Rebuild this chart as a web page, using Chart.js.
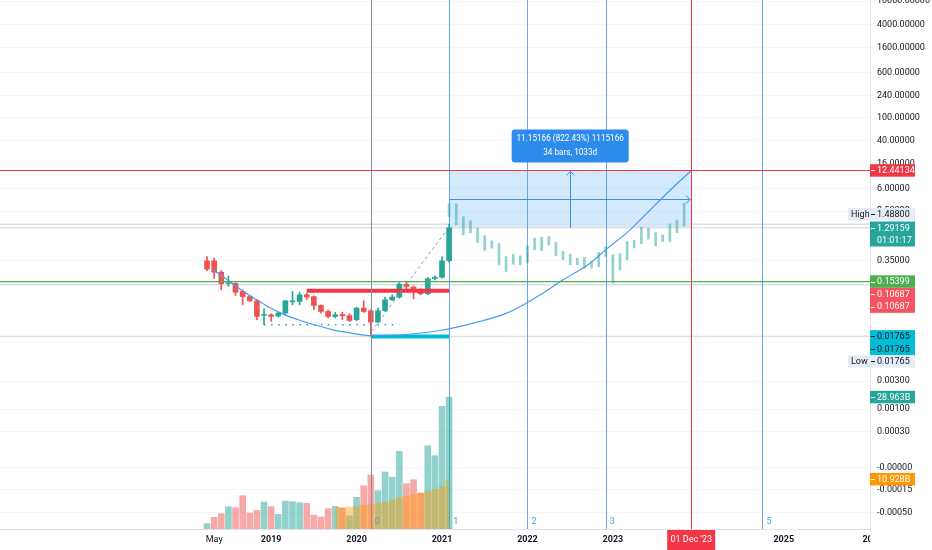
<!DOCTYPE html>
<html>
<head>
<meta charset="utf-8">
<script src="https://cdn.jsdelivr.net/npm/chart.js@4.4.0/dist/chart.umd.min.js"></script>
<style>
html, body { margin: 0; padding: 0; background: #fff; overflow: hidden; }
canvas { display: block; }
</style>
</head>
<body>
<canvas id="chart" width="932" height="550"></canvas>
<script>
// month index: 0 = Jan 2018
const candleStart = 3; // Apr 2018
const opens  = [0.350,0.350,0.223,0.143,0.143,0.104,0.085,0.072,0.0404,0.0415,0.0394,0.0444,0.0693,0.070,0.0914,0.085,0.060,0.0472,0.0388,0.0420,0.0404,0.0341,0.0540,0.0486,0.0311,0.0486,0.075,0.0834,0.139,0.124,0.111,0.095,0.174,0.183,0.350];
const highs  = [0.414,0.390,0.238,0.193,0.148,0.111,0.088,0.075,0.0526,0.0432,0.0455,0.0730,0.104,0.101,0.097,0.088,0.0616,0.0505,0.0455,0.0458,0.0432,0.0561,0.0721,0.0505,0.054,0.0834,0.0914,0.148,0.148,0.130,0.116,0.181,0.193,0.414,1.488];
const lows   = [0.238,0.175,0.111,0.127,0.089,0.062,0.070,0.0341,0.028,0.0318,0.0378,0.0415,0.0616,0.0616,0.075,0.0505,0.0444,0.0365,0.0365,0.0341,0.0318,0.0327,0.0455,0.01765,0.0300,0.0472,0.0721,0.080,0.111,0.078,0.091,0.0914,0.165,0.176,0.33];
const closes = [0.252,0.223,0.141,0.148,0.101,0.085,0.072,0.0388,0.0415,0.0388,0.0444,0.0721,0.0721,0.0914,0.0834,0.060,0.0472,0.0388,0.0415,0.0399,0.0331,0.0540,0.0472,0.0311,0.0486,0.075,0.0834,0.139,0.127,0.1143,0.095,0.172,0.183,0.350,1.2916];

// volume (billions), same months as the candles
const volumes = [1.17,2.56,3.36,4.90,4.68,7.31,3.51,4.10,5.92,4.90,3.22,6.14,6.00,5.78,5.63,3.07,2.63,4.46,4.97,4.53,2.93,6.95,9.51,11.85,8.41,12.51,11.34,17.04,9.95,10.82,7.90,18.28,16.09,26.91,28.963];
const volumeDir = "udduddddud" + "uuuuddddud" + "uudduuuudd" + "duuuu";
// volume moving average from Oct 2019
const maStart = 21;
const volumeMA = [4.83,4.83,4.90,4.97,5.27,5.48,5.70,6.00,6.36,6.95,7.24,7.68,7.90,8.26,8.78,9.36,10.928];

// bars pattern projection, Feb 2021 .. Nov 2023
const projStart = 37;
const projHigh = [3.32,3.32,2.00,1.70,1.27,0.94,0.77,0.70,0.414,0.454,0.426,0.632,0.857,0.890,0.91,0.72,0.505,0.454,0.388,0.40,0.34,0.486,0.615,0.443,0.461,0.75,0.78,1.32,1.27,1.07,0.976,1.507,1.75,3.41];
const projLow  = [2.00,1.45,0.976,1.06,0.72,0.525,0.577,0.298,0.230,0.306,0.299,0.327,0.540,0.525,0.658,0.426,0.364,0.299,0.299,0.262,0.262,0.279,0.414,0.145,0.245,0.364,0.58,0.684,0.824,0.632,0.75,0.75,1.07,1.39];

// drawings
const curveX = [3.8,6.2,8.1,10.0,11.8,13.7,16.1,18.4,20.7,23.1,26.0,31.0,35.7,40.4,45.1,48.0,49.8,53.0,56.8,59.1,61.9,64.8,67.6,71.0];
const curveY = [0.25,0.154,0.104,0.0749,0.0552,0.0426,0.0331,0.0271,0.0229,0.0203,0.0182,0.0190,0.0223,0.0298,0.0443,0.0673,0.0912,0.165,0.319,0.555,1.043,2.30,5.06,12.44];
const dashX = [26.1, 36.7];
const dashY = [0.0215, 1.19];
const supportX = [11, 30];
const supportValue = 0.028;
const resistX = [17, 37];
const resistValue = 0.10687;
const lowX = [26, 37];
const lowValue = 0.01765;
const highValue = 1.488;
const lastClose = 1.29159;
const greenValue = 0.15399;
const grayValue = 0.1354;
const rangeFrom = 37, rangeTo = 71;
const rangeLow = 1.28968, rangeHigh = 12.44134;
const rangeText = ["11.15166 (822.43%) 1115166", "34 bars, 1033d"];
const fibIdx = [26, 37, 48, 59, 81];
const fibText = ["0", "1", "2", "3", "5"];
const markIdx = 71;
const markText = "01 Dec '23";
const lastVolume = 28.963, lastMA = 10.928;

// axes
const xTickAt = [4, 12, 24, 36, 48, 60, 84];
const xTickText = ["May", "2019", "2020", "2021", "2022", "2023", "2025"];
const xClipTick = 96.5, xClipText = "2026";
const yTickAt = [10000,4000,1600,600,240,100,40,16,6,2.5,0.35,0.003,0.001,0.000407,0.0000984,0.0000412,0.0000166];
const yTickText = ["10000.00000","4000.00000","1600.00000","600.00000","240.00000","100.00000","40.00000","16.00000","6.00000","2.50000","0.35000","0.00300","0.00100","0.00030","-0.00000","-0.00015","-0.00050"];

const TEAL = "#26a69a";
const RED = "#ef5350";
const FONT = "Roboto";
const FS = 9;

const candleX = opens.map((o, i) => candleStart + i);
const isUp = opens.map((o, i) => closes[i] >= o);

function crisp(v) { return Math.round(v) + 0.5; }

function vLine(ctx, a, px, color) {
    ctx.strokeStyle = color;
    ctx.beginPath(); ctx.moveTo(crisp(px), a.top); ctx.lineTo(crisp(px), a.bottom); ctx.stroke();
}

const overlay = {
    id: "overlay",
    beforeDatasetsDraw(chart) {
        const {ctx, chartArea: a, scales: {x, y}} = chart;
        ctx.save();
        // price range box
        const l = x.getPixelForValue(rangeFrom), r = x.getPixelForValue(rangeTo);
        const t = y.getPixelForValue(rangeHigh), b = y.getPixelForValue(rangeLow);
        ctx.fillStyle = "rgba(33,150,243,0.2)";
        ctx.fillRect(l, t, r - l, b - t);

        // horizontal lines across the pane
        ctx.lineWidth = 1.5;
        ctx.strokeStyle = "#dcdfe5";
        [highValue, rangeLow, grayValue, lowValue].forEach(v => {
            const py = y.getPixelForValue(v);
            ctx.beginPath(); ctx.moveTo(a.left, py); ctx.lineTo(a.right, py); ctx.stroke();
        });

        // fib time zones 1..5
        ctx.lineWidth = 1;
        fibIdx.forEach((m, i) => {
            if (i > 0) vLine(ctx, a, x.getPixelForValue(m), "#64a6f2");
        });
        ctx.restore();
    },
    afterDatasetsDraw(chart) {
        const {ctx, chartArea: a, scales: {x, y}} = chart;
        ctx.save();
        ctx.lineWidth = 1;
        // zone 0 and the date line
        vLine(ctx, a, x.getPixelForValue(fibIdx[0]), "#8c8f99");
        vLine(ctx, a, x.getPixelForValue(markIdx), "#f23645");
        // red / green price lines
        const ry = crisp(y.getPixelForValue(rangeHigh));
        ctx.strokeStyle = "#f23645";
        ctx.beginPath(); ctx.moveTo(a.left, ry); ctx.lineTo(a.right, ry); ctx.stroke();
        const gy = y.getPixelForValue(greenValue);
        ctx.strokeStyle = "#4caf50";
        ctx.lineWidth = 1.3;
        ctx.beginPath(); ctx.moveTo(a.left, gy); ctx.lineTo(a.right, gy); ctx.stroke();
        ctx.lineWidth = 1;

        // range arrows
        const l = x.getPixelForValue(rangeFrom), r = x.getPixelForValue(rangeTo);
        const t = y.getPixelForValue(rangeHigh), b = y.getPixelForValue(rangeLow);
        const cx = crisp((l + r) / 2), cy = crisp((t + b) / 2);
        ctx.strokeStyle = "#3d8fe0";
        ctx.beginPath();
        ctx.moveTo(cx, b); ctx.lineTo(cx, t + 1);
        ctx.moveTo(cx - 4, t + 5); ctx.lineTo(cx, t + 1); ctx.lineTo(cx + 4, t + 5);
        ctx.moveTo(l, cy); ctx.lineTo(r - 1, cy);
        ctx.moveTo(r - 5, cy - 4); ctx.lineTo(r - 1, cy); ctx.lineTo(r - 5, cy + 4);
        ctx.stroke();

        // range info box
        const bw = 117, bh = 33, bx = (l + r) / 2 - bw / 2, by = t - 8 - bh;
        ctx.fillStyle = "#2d8ceb";
        ctx.beginPath(); ctx.roundRect(bx, by, bw, bh, 3); ctx.fill();
        ctx.fillStyle = "#fff";
        ctx.font = "8.2px " + FONT;
        ctx.textAlign = "center";
        ctx.textBaseline = "middle";
        ctx.fillText(rangeText[0], bx + bw / 2, by + 9.5);
        ctx.fillText(rangeText[1], bx + bw / 2, by + 23.5);

        // fib zone numbers
        ctx.textAlign = "left";
        ctx.font = FS + "px " + FONT;
        fibIdx.forEach((m, i) => {
            ctx.fillStyle = i === 0 ? "#8c8f99" : "#4a9af0";
            ctx.fillText(fibText[i], x.getPixelForValue(m) + 4, a.bottom - 7);
        });
        ctx.restore();
    },
    afterDraw(chart) {
        const {ctx, chartArea: a, scales} = chart;
        const x = scales.x;
        ctx.save();
        ctx.font = FS + "px " + FONT;
        ctx.textBaseline = "middle";
        const rowH = 12.5;
        const badge = (top, rows, bg, fg, label, left) => {
            const x0 = left !== undefined ? left : a.right;
            ctx.fillStyle = bg;
            ctx.fillRect(x0, top, 915 - x0, rows.length * rowH);
            ctx.fillStyle = fg;
            ctx.strokeStyle = fg;
            ctx.lineWidth = 1;
            rows.forEach((txt, i) => {
                const cy = top + rowH * i + rowH / 2;
                ctx.textAlign = "left";
                if (i === 0 || rows[i] === rows[0]) {
                    ctx.beginPath(); ctx.moveTo(a.right + 1, Math.round(cy) + 0.5); ctx.lineTo(a.right + 5, Math.round(cy) + 0.5); ctx.stroke();
                }
                ctx.fillText(txt, a.right + 7, cy + 0.5);
            });
            if (label) ctx.fillText(label, x0 + 3, top + rowH / 2 + 0.5);
        };
        const list = [
            {v: scales.y.getPixelForValue(rangeHigh), rows: [rangeHigh.toFixed(5)], bg: "#f23645", fg: "#fff"},
            {v: scales.y.getPixelForValue(lastClose), rows: [lastClose.toFixed(5), "01:01:17"], bg: TEAL, fg: "#fff"},
            {v: scales.y.getPixelForValue(greenValue), rows: [greenValue.toFixed(5)], bg: "#4caf50", fg: "#fff"},
            {v: scales.y.getPixelForValue(resistValue), rows: [resistValue.toFixed(5), resistValue.toFixed(5)], bg: "#f7525f", fg: "#fff"},
            {v: scales.y.getPixelForValue(lowValue), rows: [lowValue.toFixed(5), lowValue.toFixed(5)], bg: "#00bcd4", fg: "#131722"},
            {v: scales.y.getPixelForValue(lowValue), rows: [lowValue.toFixed(5)], bg: "#e6edf7", fg: "#131722", label: "Low", left: 848},
            {v: scales.yv.getPixelForValue(lastVolume), rows: [lastVolume.toFixed(3) + "B"], bg: TEAL, fg: "#fff"},
            {v: scales.yv.getPixelForValue(lastMA), rows: [lastMA.toFixed(3) + "B"], bg: "#ff9800", fg: "#fff"}
        ];
        let prevBottom = -Infinity;
        let closeTop = 0;
        list.forEach((bd, i) => {
            const top = Math.max(bd.v - rowH / 2, prevBottom);
            if (i === 1) closeTop = top;
            badge(top, bd.rows, bd.bg, bd.fg, bd.label, bd.left);
            prevBottom = top + bd.rows.length * rowH;
        });
        // High label sits just above the last price badge
        const hy = Math.min(scales.y.getPixelForValue(highValue) - rowH / 2, closeTop - 1 - rowH);
        badge(hy, [highValue.toFixed(5)], "#e6edf7", "#131722", "High", 848);

        // date badge on the time axis
        const mx = x.getPixelForValue(markIdx);
        ctx.fillStyle = "#f23645";
        ctx.fillRect(mx - 24, a.bottom + 1, 48, 20);
        ctx.fillStyle = "#fff";
        ctx.textAlign = "center";
        ctx.fillText(markText, mx, a.bottom + 11);

        // last year label, cut by the price axis
        ctx.beginPath(); ctx.rect(a.left, a.bottom, a.right - a.left, 21); ctx.clip();
        ctx.fillStyle = "#131722";
        ctx.font = "bold " + FS + "px " + FONT;
        ctx.fillText(xClipText, x.getPixelForValue(xClipTick), a.bottom + 11);
        ctx.restore();
    }
};

const lineStyle = {type: "line", pointRadius: 0, fill: false, order: 1};

new Chart(document.getElementById("chart"), {
    type: "bar",
    data: {
        datasets: [
            {
                type: "line", label: "curve", order: 0, pointRadius: 0, borderWidth: 1.2, borderColor: "#4a9af0",
                cubicInterpolationMode: "monotone",
                data: curveX.map((cx, i) => ({x: cx, y: curveY[i]}))
            },
            Object.assign({}, lineStyle, {
                label: "diag", borderColor: "#9598a1", borderWidth: 1, borderDash: [3, 3],
                data: dashX.map((dx, i) => ({x: dx, y: dashY[i]}))
            }),
            Object.assign({}, lineStyle, {
                label: "resistance", borderColor: "#f23645", borderWidth: 4,
                data: resistX.map(rx => ({x: rx, y: resistValue}))
            }),
            Object.assign({}, lineStyle, {
                label: "low", borderColor: "#00bcd4", borderWidth: 4,
                data: lowX.map(lx => ({x: lx, y: lowValue}))
            }),
            Object.assign({}, lineStyle, {
                label: "support", borderColor: TEAL, borderWidth: 1.5, borderDash: [1.5, 5.6], order: 5,
                data: supportX.map(sx => ({x: sx, y: supportValue}))
            }),
            {
                label: "bodies", order: 2, grouped: false, barThickness: 5, minBarLength: 1, borderWidth: 0,
                backgroundColor: isUp.map(u => u ? TEAL : RED),
                data: candleX.map((cx, i) => ({x: cx, y: [Math.min(opens[i], closes[i]), Math.max(opens[i], closes[i])]}))
            },
            {
                label: "wicks", order: 3, grouped: false, barThickness: 1, borderWidth: 0,
                backgroundColor: isUp.map(u => u ? TEAL : RED),
                data: candleX.map((cx, i) => ({x: cx, y: [lows[i], highs[i]]}))
            },
            {
                label: "projection", order: 4, grouped: false, barThickness: 2, borderWidth: 0,
                backgroundColor: "rgba(38,166,154,0.5)",
                data: projHigh.map((h, i) => ({x: projStart + i, y: [projLow[i], h]}))
            },
            {
                type: "line", label: "volume MA", yAxisID: "yv", order: 7, pointRadius: 0, borderWidth: 0,
                stepped: "middle", fill: "origin", backgroundColor: "rgba(255,152,0,0.42)",
                data: volumeMA.map((v, i) => ({x: maStart + i, y: v}))
            },
            {
                label: "volume", yAxisID: "yv", order: 8, grouped: false, barThickness: 6, borderWidth: 0,
                backgroundColor: volumeDir.split("").map(d => d === "u" ? "rgba(38,166,154,0.5)" : "rgba(239,83,80,0.5)"),
                data: volumes.map((v, i) => ({x: candleStart + i, y: v}))
            }
        ]
    },
    options: {
        responsive: false,
        animation: false,
        layout: {padding: 0},
        plugins: {legend: {display: false}, tooltip: {enabled: false}},
        scales: {
            x: {
                type: "linear", position: "bottom", min: -26.08, max: 96.11, offset: false, bounds: "data",
                grid: {display: false, offset: false, drawTicks: false},
                border: {color: "#e0e3eb"},
                ticks: {
                    autoSkip: false, maxRotation: 0, padding: 5, color: "#131722",
                    font: ctx => ({family: FONT, size: FS, weight: xTickText[ctx.index] === "May" ? "normal" : "bold"}),
                    callback: (v, i) => xTickText[i]
                },
                afterBuildTicks: s => { s.ticks = xTickAt.map(v => ({value: v})); },
                afterFit: s => { s.height = 21; s.paddingLeft = 0; s.paddingRight = 0; }
            },
            y: {
                type: "logarithmic", position: "right", min: 8.73e-6, max: 10474, bounds: "data",
                grid: {color: "#f5f6f9", drawTicks: false},
                border: {color: "#e0e3eb"},
                ticks: {
                    autoSkip: false, padding: 7, color: "#131722",
                    font: {family: FONT, size: FS},
                    callback: (v, i) => yTickText[i]
                },
                afterBuildTicks: s => { s.ticks = yTickAt.map(v => ({value: v})); },
                afterFit: s => { s.width = 62; s.paddingTop = 0; s.paddingBottom = 0; }
            },
            yv: {type: "linear", display: false, min: 0, max: 116.1}
        }
    },
    plugins: [overlay]
});
</script>
</body>
</html>
